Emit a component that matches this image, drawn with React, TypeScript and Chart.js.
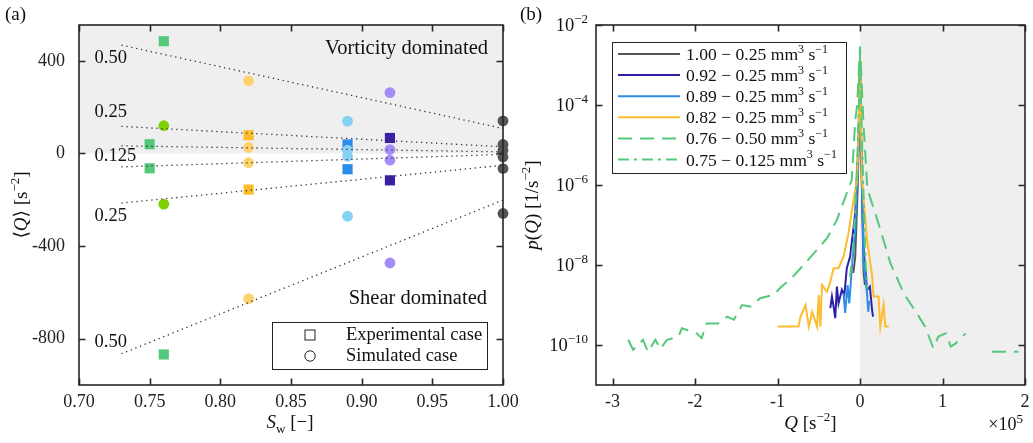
import React, { useEffect, useRef } from 'react';
import { Chart, registerables } from 'chart.js';
Chart.register(...registerables);

const FONT = '"Liberation Serif", "DejaVu Serif", serif';

// ---------- Panel (a) data ----------
const swTicks = [0.7, 0.75, 0.8, 0.85, 0.9, 0.95, 1.0];
const qTicks = [-800, -400, 0, 400];

const expGreenSw = [0.76, 0.75, 0.75, 0.76];
const expGreenQ = [485, 40, -64, -868];
const simGreenSw = [0.76, 0.76];
const simGreenQ = [120, -219];
const expYellowSw = [0.82, 0.82];
const expYellowQ = [79, -156];
const simYellowSw = [0.82, 0.82, 0.82, 0.82];
const simYellowQ = [314, 26, -40, -627];
const expBlueSw = [0.89, 0.89];
const expBlueQ = [39, -68];
const simBlueSw = [0.89, 0.89, 0.89, 0.89];
const simBlueQ = [140, 14, -12, -271];
const expPurpleSw = [0.92, 0.92];
const expPurpleQ = [67, -116];
const simPurpleSw = [0.92, 0.92, 0.92, 0.92];
const simPurpleQ = [263, 17, -29, -473];
const simGreySw = [1, 1, 1, 1, 1, 1];
const simGreyQ = [141, 39, 14, -15, -65, -259];

// dotted guide lines (S_w from 0.73 to 1.00)
const guideSw = [0.73, 1.0];
const guideQStart = [468, 117, 33, -58, -214, -865];
const guideQEnd = [108, 29, 7, -4, -51, -201];
const guideText = ['0.50', '0.25', '0.125', '0.25', '0.50'];
const guideTextQ = [391, 158, -33, -291, -836];

// ---------- Panel (b) data (Q in 1e5 s^-2, log10 p) ----------
const qxTicks = [-3, -2, -1, 0, 1, 2];
const pLogTicks = [-10, -8, -6, -4, -2];

const s100Q = [-0.08, -0.058, -0.03, -0.01, 0, 0.01, 0.03, 0.044, 0.06];
const s100LogP = [-8.2, -7.8, -6.2, -4.5, -3.0, -4.6, -6.8, -8.2, -8.5];

const s092Q = [-0.36, -0.34, -0.32, -0.3, -0.28, -0.26, -0.22, -0.19, -0.16, -0.12, -0.058, -0.02, 0, 0.015, 0.044, 0.085, 0.12, 0.146, 0.158];
const s092LogP = [-9.08, -8.79, -9.04, -9.33, -8.54, -8.96, -8.62, -8.75, -8.08, -7.79, -6.7, -5.0, -2.9, -5.0, -7.62, -8.62, -8.54, -9.12, -9.29];

const s089Q = [-0.2, -0.18, -0.15, -0.13, -0.1, -0.058, -0.02, 0, 0.015, 0.044, 0.085, 0.1, 0.11];
const s089LogP = [-8.71, -9.2, -8.5, -8.96, -8.12, -7.12, -5.2, -3.0, -5.2, -7.96, -8.71, -9.17, -8.9];

const s082Q = [-1.0, -0.745, -0.72, -0.66, -0.62, -0.58, -0.52, -0.5, -0.48, -0.46, -0.4, -0.36, -0.32, -0.26, -0.2, -0.14, -0.078, -0.036, -0.015, 0, 0.01, 0.024, 0.085, 0.146, 0.165, 0.225, 0.246, 0.286, 0.307, 0.35];
const s082LogP = [-9.54, -9.54, -9.29, -9.0, -9.54, -9.17, -9.54, -8.75, -9.54, -8.5, -8.67, -8.42, -8.08, -8.08, -7.79, -7.21, -6.37, -5.87, -4.5, -2.9, -4.2, -5.87, -7.37, -8.25, -8.79, -8.79, -9.54, -9.0, -9.54, -9.54];

const s076Q = [-2.81, -2.75, -2.63, -2.57, -2.48, -2.42, -2.34, -2.2, -2.16, -1.98, -1.92, -1.86, -1.72, -1.61, -1.53, -1.43, -1.33, -1.21, -1.05, -0.95, -0.85, -0.72, -0.56, -0.4, -0.28, -0.16, -0.1, -0.057, -0.036, 0, 0.044, 0.09, 0.21, 0.37, 0.53, 0.69, 0.79, 0.85, 0.89, 0.95, 1.04, 1.1, 1.16, 1.28, 1.44, 1.6, 1.92];
const s076LogP: (number | null)[] = [-9.87, -10.12, -9.87, -10.17, -9.87, -10.1, -9.87, -9.79, -9.58, -9.71, -9.83, -9.46, -9.46, -9.29, -9.37, -9.0, -9.04, -8.83, -8.75, -8.54, -8.37, -8.08, -7.71, -7.33, -6.87, -6.2, -5.87, -4.37, -4.04, -2.54, -4.54, -6.1, -6.87, -7.96, -8.71, -9.21, -9.54, -9.87, -10.08, -9.79, -9.71, -10.04, -9.96, -9.71, null, -10.17, -10.17];

const s075Q = [-0.12, -0.08, -0.05, -0.025, -0.008, 0, 0.01, 0.03, 0.05, 0.07, 0.09];
const s075LogP = [-8.3, -7.4, -6.2, -4.9, -3.8, -2.7, -3.7, -5.3, -6.8, -8.0, -8.6];

const seriesLabels = ['1.00', '0.92', '0.89', '0.82', '0.76', '0.75'];
const seriesRates = ['0.25', '0.25', '0.25', '0.25', '0.50', '0.125'];

type Seg = { t: string; sup?: boolean; sub?: boolean; it?: boolean };
function segFont(s: Seg, size: number) {
  const sz = s.sup || s.sub ? Math.round(size * 0.7) : size;
  return `${s.it ? 'italic ' : ''}${sz}px ${FONT}`;
}
function drawRich(ctx: CanvasRenderingContext2D, segs: Seg[], x: number, y: number, size: number, align = 'left') {
  let w = 0;
  for (const s of segs) { ctx.font = segFont(s, size); w += ctx.measureText(s.t).width; }
  let cx = align === 'left' ? x : align === 'center' ? x - w / 2 : x - w;
  ctx.textBaseline = 'alphabetic';
  ctx.textAlign = 'left';
  for (const s of segs) {
    ctx.font = segFont(s, size);
    const dy = s.sup ? -size * 0.4 : s.sub ? size * 0.25 : 0;
    ctx.fillText(s.t, cx, y + dy);
    cx += ctx.measureText(s.t).width;
  }
}

const AXC = '#262626';

function frameAndTicks(chart: any, xt: number[], yt: number[]) {
  const { ctx, chartArea: a, scales } = chart;
  ctx.save();
  ctx.strokeStyle = AXC;
  ctx.lineWidth = 1.6;
  ctx.strokeRect(a.left, a.top, a.right - a.left, a.bottom - a.top);
  const L = 6.5;
  ctx.beginPath();
  for (const v of xt) {
    const px = Math.round(scales.x.getPixelForValue(v)) + 0.5;
    ctx.moveTo(px, a.bottom); ctx.lineTo(px, a.bottom - L);
    ctx.moveTo(px, a.top); ctx.lineTo(px, a.top + L);
  }
  for (const v of yt) {
    const py = Math.round(scales.y.getPixelForValue(v)) + 0.5;
    ctx.moveTo(a.left, py); ctx.lineTo(a.left + L, py);
    ctx.moveTo(a.right, py); ctx.lineTo(a.right - L, py);
  }
  ctx.stroke();
  ctx.restore();
}

function PanelA() {
  const ref = useRef<HTMLCanvasElement>(null);
  useEffect(() => {
    const pts = (xs: number[], ys: number[]) => xs.map((x, i) => ({ x, y: ys[i] }));
    const sq = (c: string, xs: number[], ys: number[]) => ({
      data: pts(xs, ys), pointStyle: 'rect', pointRadius: 7.2, backgroundColor: c, borderColor: c, pointBorderWidth: 0, order: 3, clip: false,
    });
    const ci = (c: string, xs: number[], ys: number[]) => ({
      data: pts(xs, ys), pointStyle: 'circle', pointRadius: 5.4, backgroundColor: c, borderColor: c, pointBorderWidth: 0, order: 2, clip: false,
    });
    const guides = guideQStart.map((q0, i) => ({
      data: [{ x: guideSw[0], y: q0 }, { x: guideSw[1], y: guideQEnd[i] }],
      showLine: true, borderColor: '#333', borderWidth: 1.3, borderDash: [1.3, 3.7], pointRadius: 0, order: 1, clip: false,
    }));
    const plugin = {
      id: 'decorA',
      beforeDatasetsDraw(chart: any) {
        const { ctx, chartArea: a, scales } = chart;
        const y0 = scales.y.getPixelForValue(0);
        ctx.save();
        ctx.fillStyle = '#efefef';
        ctx.fillRect(a.left, a.top, a.right - a.left, y0 - a.top);
        ctx.fillStyle = '#111';
        drawRich(ctx, [{ t: 'Vorticity dominated' }], 488, 54, 20.5, 'right');
        drawRich(ctx, [{ t: 'Shear dominated' }], 487, 304, 20.5, 'right');
        guideText.forEach((t, i) => {
          drawRich(ctx, [{ t }], scales.x.getPixelForValue(0.711), scales.y.getPixelForValue(guideTextQ[i]), 18.5, 'left');
        });
        ctx.restore();
      },
      afterDraw(chart: any) {
        const { ctx } = chart;
        frameAndTicks(chart, swTicks, qTicks);
        ctx.save();
        ctx.fillStyle = '#111';
        drawRich(ctx, [{ t: '(a)' }], 5, 20, 19);
        drawRich(ctx, [{ t: 'S', it: true }, { t: 'w', sub: true }, { t: ' [−]' }], 290, 428, 19, 'center');
        ctx.translate(27, 205);
        ctx.rotate(-Math.PI / 2);
        drawRich(ctx, [{ t: '⟨' }, { t: 'Q', it: true }, { t: '⟩ [s' }, { t: '−2', sup: true }, { t: ']' }], 0, 0, 19, 'center');
        ctx.restore();
        // legend
        ctx.save();
        ctx.fillStyle = '#fff';
        ctx.fillRect(272, 322, 215, 47);
        ctx.strokeStyle = '#222';
        ctx.lineWidth = 1;
        ctx.strokeRect(272.5, 322.5, 215, 47);
        ctx.strokeRect(305, 330, 10, 10);
        ctx.beginPath();
        ctx.arc(310, 356, 5.2, 0, Math.PI * 2);
        ctx.stroke();
        ctx.fillStyle = '#111';
        drawRich(ctx, [{ t: 'Experimental case' }], 346, 340, 18.5);
        drawRich(ctx, [{ t: 'Simulated case' }], 346, 361, 18.5);
        ctx.restore();
      },
    };
    const chart = new Chart(ref.current!, {
      type: 'scatter',
      data: {
        datasets: [
          ...guides,
          ci('#7fd000', simGreenSw, simGreenQ),
          ci('#fed36f', simYellowSw, simYellowQ),
          ci('#86d2f5', simBlueSw, simBlueQ),
          ci('#a58cf8', simPurpleSw, simPurpleQ),
          ci('#555555', simGreySw, simGreyQ),
          sq('#55c97b', expGreenSw, expGreenQ),
          sq('#fbbd2e', expYellowSw, expYellowQ),
          sq('#2d8ceb', expBlueSw, expBlueQ),
          sq('#3b20a3', expPurpleSw, expPurpleQ),
        ] as any,
      },
      options: {
        animation: false,
        responsive: false,
        events: [],
        layout: { padding: { left: 0, right: 27, top: 25, bottom: 0 } },
        plugins: { legend: { display: false }, tooltip: { enabled: false } },
        scales: {
          x: {
            type: 'linear', min: 0.7, max: 1.0,
            grid: { display: false }, border: { display: false },
            afterBuildTicks: (s: any) => { s.ticks = swTicks.map((v) => ({ value: v })); },
            afterFit: (s: any) => { s.height = 58; s.paddingLeft = 0; s.paddingRight = 0; },
            ticks: { padding: -2, color: '#222', font: { family: FONT, size: 18 }, callback: (v: any) => Number(v).toFixed(2), maxRotation: 0 },
          },
          y: {
            type: 'linear', min: -1000, max: 555,
            grid: { display: false }, border: { display: false },
            afterBuildTicks: (s: any) => { s.ticks = qTicks.map((v) => ({ value: v })); },
            afterFit: (s: any) => { s.width = 79; s.paddingTop = 0; s.paddingBottom = 0; },
            ticks: { padding: 6, color: '#222', font: { family: FONT, size: 18 }, callback: (v: any) => String(v) },
          },
        },
      } as any,
      plugins: [plugin],
    });
    return () => chart.destroy();
  }, []);
  return <canvas ref={ref} width={530} height={443} style={{ position: 'absolute', left: 0, top: 0 }} />;
}

function PanelB() {
  const ref = useRef<HTMLCanvasElement>(null);
  useEffect(() => {
    const mk = (xs: number[], ls: (number | null)[], c: string, dash: number[], order: number) => ({
      data: xs.map((x, i) => ({ x, y: ls[i] === null ? null : Math.pow(10, ls[i] as number) })),
      borderColor: c, borderWidth: 2, borderDash: dash, pointRadius: 0, tension: 0, spanGaps: false, order,
    });
    const colors = ['#555555', '#2d1fa8', '#2e8de8', '#fdbd2e', '#55c97b', '#55c97b'];
    const dashes = [[], [], [], [], [14, 8], [11, 5, 3, 5]];
    const plugin = {
      id: 'decorB',
      beforeDatasetsDraw(chart: any) {
        const { ctx, chartArea: a, scales } = chart;
        const x0 = scales.x.getPixelForValue(0);
        ctx.save();
        ctx.fillStyle = '#efefef';
        ctx.fillRect(x0, a.top, a.right - x0, a.bottom - a.top);
        ctx.restore();
      },
      afterDraw(chart: any) {
        const { ctx, chartArea: a, scales } = chart;
        frameAndTicks(chart, qxTicks, pLogTicks.map((e) => Math.pow(10, e)));
        ctx.save();
        ctx.fillStyle = '#111';
        for (const e of pLogTicks) {
          const py = scales.y.getPixelForValue(Math.pow(10, e));
          drawRich(ctx, [{ t: '10' }, { t: '−' + String(-e), sup: true }], 73, py + 5.5, 18.5, 'right');
        }
        drawRich(ctx, [{ t: '(b)' }], 5, 20, 19);
        drawRich(ctx, [{ t: 'Q', it: true }, { t: ' [s' }, { t: '−2', sup: true }, { t: ']' }], (a.left + a.right) / 2, 429, 19, 'center');
        drawRich(ctx, [{ t: '×10' }, { t: '5', sup: true }], 508, 430, 18, 'right');
        ctx.translate(23, 205);
        ctx.rotate(-Math.PI / 2);
        drawRich(ctx, [{ t: 'p', it: true }, { t: '(' }, { t: 'Q', it: true }, { t: ') [1/s' }, { t: '−2', sup: true }, { t: ']' }], 0, 0, 19, 'center');
        ctx.restore();
        // legend
        ctx.save();
        const lx = 97, ly = 42, lw = 234, lh = 131;
        ctx.fillStyle = '#fff';
        ctx.fillRect(lx, ly, lw, lh);
        ctx.strokeStyle = '#222';
        ctx.lineWidth = 1;
        ctx.strokeRect(lx + 0.5, ly + 0.5, lw, lh);
        seriesLabels.forEach((lab, i) => {
          const y = 54 + i * 21.1;
          ctx.strokeStyle = colors[i];
          ctx.lineWidth = 2;
          ctx.setLineDash(dashes[i]);
          ctx.beginPath();
          ctx.moveTo(103, y);
          ctx.lineTo(165, y);
          ctx.stroke();
          ctx.setLineDash([]);
          ctx.fillStyle = '#111';
          drawRich(ctx, [{ t: `${lab} − ${seriesRates[i]} mm` }, { t: '3', sup: true }, { t: ' s' }, { t: '−1', sup: true }], 171, y + 6, 17.6);
        });
        ctx.restore();
      },
    };
    const chart = new Chart(ref.current!, {
      type: 'line',
      data: {
        datasets: [
          mk(s100Q, s100LogP, colors[0], dashes[0], 6),
          mk(s092Q, s092LogP, colors[1], dashes[1], 5),
          mk(s089Q, s089LogP, colors[2], dashes[2], 4),
          mk(s082Q, s082LogP, colors[3], dashes[3], 3),
          mk(s076Q, s076LogP, colors[4], dashes[4], 2),
          mk(s075Q, s075LogP, colors[5], dashes[5], 1),
        ] as any,
      },
      options: {
        animation: false,
        responsive: false,
        events: [],
        layout: { padding: { left: 0, right: 8, top: 25, bottom: 0 } },
        plugins: { legend: { display: false }, tooltip: { enabled: false } },
        scales: {
          x: {
            type: 'linear', min: -3.2, max: 2,
            grid: { display: false }, border: { display: false },
            afterBuildTicks: (s: any) => { s.ticks = qxTicks.map((v) => ({ value: v })); },
            afterFit: (s: any) => { s.height = 58; s.paddingLeft = 0; s.paddingRight = 0; },
            ticks: { padding: -2, color: '#222', font: { family: FONT, size: 18 }, callback: (v: any) => String(v), maxRotation: 0 },
          },
          y: {
            type: 'logarithmic', min: 1e-11, max: 1e-2,
            grid: { display: false }, border: { display: false },
            afterBuildTicks: (s: any) => { s.ticks = pLogTicks.map((e) => ({ value: Math.pow(10, e) })); },
            afterFit: (s: any) => { s.width = 81; s.paddingTop = 0; s.paddingBottom = 0; },
            ticks: { display: false },
          },
        },
      } as any,
      plugins: [plugin],
    });
    return () => chart.destroy();
  }, []);
  return <canvas ref={ref} width={518} height={443} style={{ position: 'absolute', left: 515, top: 0 }} />;
}

export default function App() {
  return (
    <div style={{ position: 'fixed', left: 0, top: 0, width: 1033, height: 443, background: '#fff', overflow: 'hidden' }}>
      <PanelA />
      <PanelB />
    </div>
  );
}
